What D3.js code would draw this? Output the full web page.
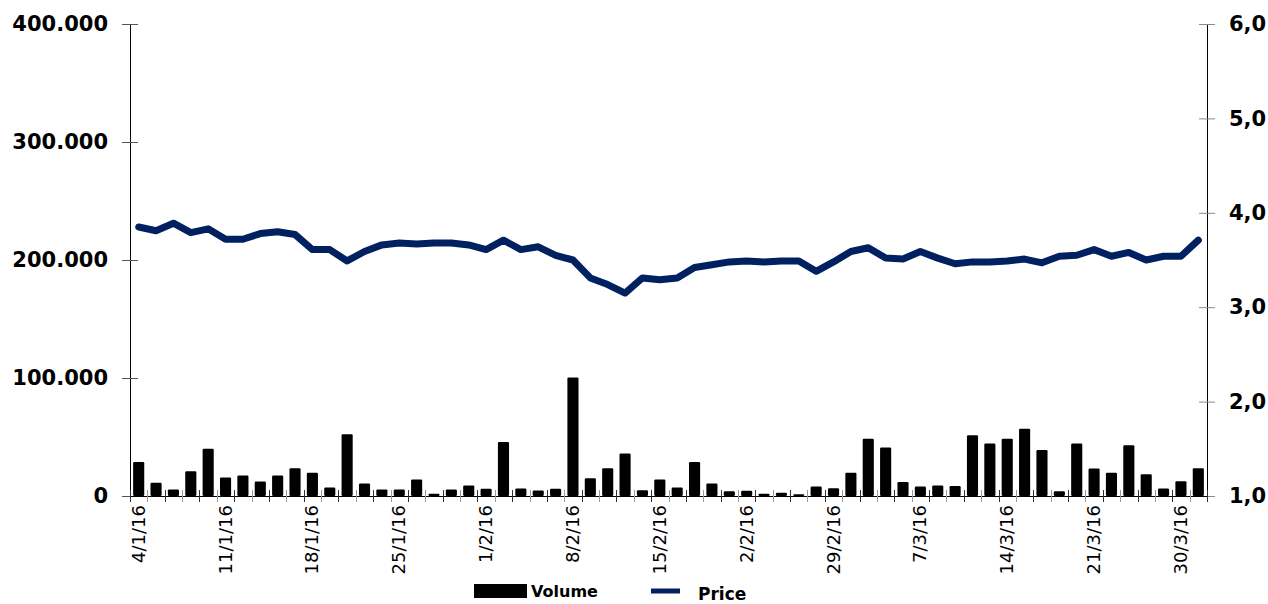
<!DOCTYPE html>
<meta charset="utf-8">
<style>
  body { margin: 0; background: #fff; font-family: "DejaVu Sans", Verdana, sans-serif; }
  svg text { font-family: "DejaVu Sans", Verdana, sans-serif; }
  .axisY text { font-size: 21px; font-weight: bold; fill: #000; }
  .axisX text { font-size: 18px; fill: #000; }
  .legend text { font-size: 16px; font-weight: bold; fill: #000; }
</style>
<body>
<div id="viz"></div>
<script src="https://d3js.org/d3.v7.min.js"></script>
<script>
// trading days, Jan - Mar 2016
var dates = [
  "4/1/16","5/1/16","6/1/16","7/1/16","8/1/16","11/1/16","12/1/16","13/1/16","14/1/16","15/1/16",
  "18/1/16","19/1/16","20/1/16","21/1/16","22/1/16","25/1/16","26/1/16","27/1/16","28/1/16","29/1/16",
  "1/2/16","2/2/16","3/2/16","4/2/16","5/2/16","8/2/16","9/2/16","10/2/16","11/2/16","12/2/16",
  "15/2/16","16/2/16","17/2/16","18/2/16","19/2/16","22/2/16","23/2/16","24/2/16","25/2/16","26/2/16",
  "29/2/16","1/3/16","2/3/16","3/3/16","4/3/16","7/3/16","8/3/16","9/3/16","10/3/16","11/3/16",
  "14/3/16","15/3/16","16/3/16","17/3/16","18/3/16","21/3/16","22/3/16","23/3/16","24/3/16","29/3/16",
  "30/3/16","31/3/16"
];

var volume = [
  28800, 11300, 5600, 21000, 40000, 15600, 17300, 12200, 17300, 23500,
  19800, 7100, 52300, 10500, 5600, 5500, 14000, 2000, 5600, 9000,
  6200, 45700, 6400, 4600, 6200, 100500, 15000, 23500, 36000, 4800,
  13900, 7100, 28800, 10500, 4000, 4500, 1900, 2800, 1500, 8000,
  6500, 19800, 48600, 41000, 11900, 8000, 8800, 8500, 51400, 44400,
  48600, 57000, 39000, 4000, 44400, 23200, 19800, 43000, 18400, 6400,
  12400, 23500
];

var price = [
  3.85, 3.81, 3.89, 3.79, 3.83, 3.72, 3.72, 3.78, 3.80, 3.77,
  3.61, 3.61, 3.49, 3.59, 3.66, 3.68, 3.67, 3.68, 3.68, 3.66,
  3.61, 3.71, 3.61, 3.64, 3.55, 3.50, 3.31, 3.24, 3.15, 3.31,
  3.29, 3.31, 3.42, 3.45, 3.48, 3.49, 3.48, 3.49, 3.49, 3.38,
  3.48, 3.59, 3.63, 3.52, 3.51, 3.59, 3.52, 3.46, 3.48, 3.48,
  3.49, 3.51, 3.47, 3.54, 3.55, 3.61, 3.54, 3.58, 3.50, 3.54,
  3.54, 3.71
];

// labelled ticks (the 22/2 label reads "2/2/16" in the original)
var tickDates  = ["4/1/16","11/1/16","18/1/16","25/1/16","1/2/16","8/2/16","15/2/16","22/2/16","29/2/16","7/3/16","14/3/16","21/3/16","30/3/16"];
var tickLabels = ["4/1/16","11/1/16","18/1/16","25/1/16","1/2/16","8/2/16","15/2/16","2/2/16","29/2/16","7/3/16","14/3/16","21/3/16","30/3/16"];

var volTicks = [0, 100000, 200000, 300000, 400000];
var priceTicks = [1, 2, 3, 4, 5, 6];

var W = 1268, H = 604;
var pLeft = 130, pRight = 1207, pTop = 24, pBottom = 496;

var loc = d3.formatLocale({decimal: ",", thousands: ".", grouping: [3], currency: ["", ""]});

var x = d3.scaleBand().domain(dates).range([pLeft, pRight]).paddingInner(0.36).paddingOuter(0.18);
var yVol = d3.scaleLinear().domain([0, 400000]).range([pBottom, pTop]);
var yPrice = d3.scaleLinear().domain([1, 6]).range([pBottom, pTop]);

var svg = d3.select('#viz').append('svg')
    .attr('width', W)
    .attr('height', H);

// bars
svg.append('g').selectAll('rect')
    .data(dates)
    .enter().append('rect')
    .attr('x', function(d) { return x(d); })
    .attr('y', function(d, i) { return yVol(volume[i]); })
    .attr('width', x.bandwidth())
    .attr('height', function(d, i) { return pBottom - yVol(volume[i]); })
    .attr('rx', 1.2)
    .attr('fill', '#000');

// price line
var line = d3.line()
    .x(function(d, i) { return x(dates[i]) + x.bandwidth() / 2; })
    .y(function(d) { return yPrice(d); });

svg.append('path')
    .datum(price)
    .attr('d', line)
    .attr('fill', 'none')
    .attr('stroke', '#002060')
    .attr('stroke-width', 7)
    .attr('stroke-linejoin', 'round')
    .attr('stroke-linecap', 'round');

// left axis
var axL = svg.append('g')
    .attr('class', 'axisY')
    .attr('transform', 'translate(' + pLeft + ',0)')
    .call(d3.axisLeft(yVol).tickValues(volTicks).tickFormat(loc.format(',.0f')).tickSize(8).tickPadding(14));
axL.select('.domain').attr('stroke', '#000').attr('d', 'M0.5,' + pTop + 'V' + pBottom);
axL.selectAll('.tick line').attr('x1', -8).attr('x2', 8).attr('stroke', '#555');

// right axis
var axR = svg.append('g')
    .attr('class', 'axisY')
    .attr('transform', 'translate(' + pRight + ',0)')
    .call(d3.axisRight(yPrice).tickValues(priceTicks).tickFormat(loc.format(',.1f')).tickSize(8).tickPadding(14));
axR.select('.domain').attr('stroke', '#000').attr('d', 'M0.5,' + pTop + 'V' + pBottom);
axR.selectAll('.tick line').attr('x1', -8).attr('x2', 8).attr('stroke', '#888');

// x axis line and ticks at band edges
var gx = svg.append('g').attr('class', 'axisX');
gx.append('line')
    .attr('x1', pLeft).attr('x2', pRight)
    .attr('y1', pBottom + 0.5).attr('y2', pBottom + 0.5)
    .attr('stroke', '#000');
var step = x.step();
gx.selectAll('line.tk')
    .data(d3.range(dates.length + 1))
    .enter().append('line')
    .attr('class', 'tk')
    .attr('x1', function(i) { return Math.round(pLeft + step * i) + 0.5; })
    .attr('x2', function(i) { return Math.round(pLeft + step * i) + 0.5; })
    .attr('y1', pBottom - 6)
    .attr('y2', pBottom + 6)
    .attr('stroke', function(i) { return i % 2 ? '#999' : '#333'; });

gx.selectAll('text')
    .data(tickDates)
    .enter().append('text')
    .attr('transform', function(d) {
      return 'translate(' + (x(d) + x.bandwidth() / 2 + 6) + ',' + (pBottom + 9) + ') rotate(-90)';
    })
    .attr('text-anchor', 'end')
    .text(function(d, i) { return tickLabels[i]; });

// legend
var lg = svg.append('g').attr('class', 'legend');
lg.append('rect').attr('x', 474).attr('y', 584).attr('width', 53).attr('height', 14).attr('fill', '#000');
lg.append('text').attr('x', 531).attr('y', 597).text('Volume');
lg.append('line').attr('x1', 651).attr('x2', 680).attr('y1', 591).attr('y2', 591)
    .attr('stroke', '#002060').attr('stroke-width', 5);
lg.append('text').attr('x', 698).attr('y', 600).style('font-size', '17px').text('Price');
</script>
</body>
